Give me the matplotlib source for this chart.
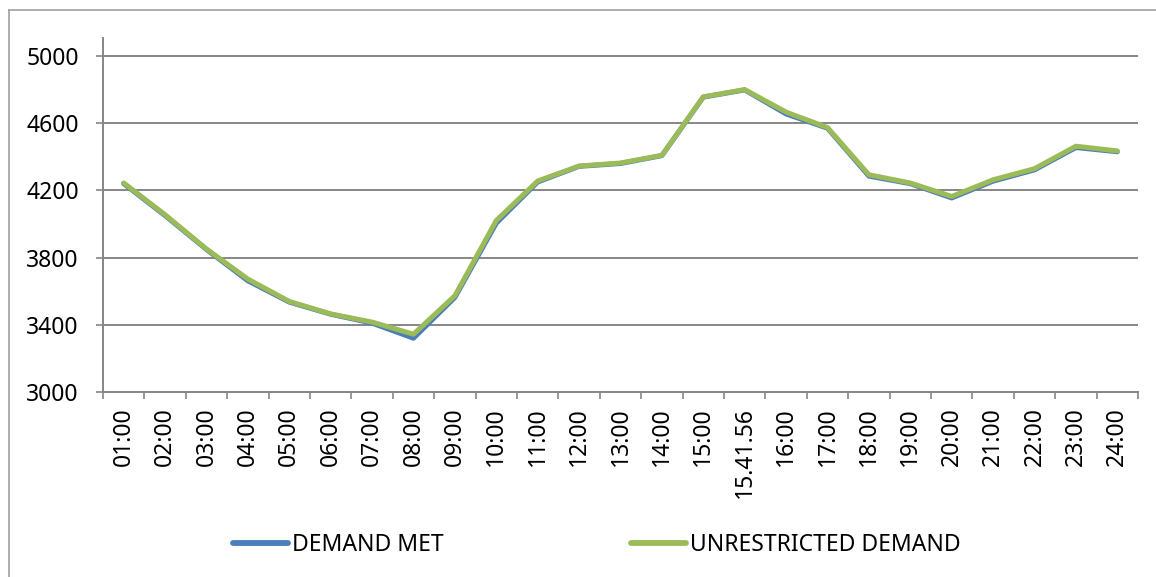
"""Demand met vs unrestricted demand, hourly line chart."""

import matplotlib
matplotlib.use("Agg")
import matplotlib.pyplot as plt
from matplotlib.lines import Line2D
from matplotlib.ticker import FixedLocator

hours = ["01:00", "02:00", "03:00", "04:00", "05:00", "06:00", "07:00",
         "08:00", "09:00", "10:00", "11:00", "12:00", "13:00", "14:00",
         "15:00", "15.41.56", "16:00", "17:00", "18:00", "19:00", "20:00",
         "21:00", "22:00", "23:00", "24:00"]

demand_met = [4240, 4050, 3848, 3662, 3535, 3463, 3410, 3320, 3563, 4005,
              4250, 4343, 4360, 4407, 4755, 4798, 4655, 4570, 4285, 4240,
              4155, 4255, 4322, 4455, 4430]

unrestricted = [4244, 4055, 3851, 3672, 3539, 3465, 3416, 3344, 3573, 4021,
                4256, 4345, 4363, 4409, 4757, 4800, 4666, 4574, 4293, 4244,
                4164, 4263, 4329, 4463, 4435]

y_ticks = [3000, 3400, 3800, 4200, 4600, 5000]

BLUE = "#4A7EBB"
GREEN = "#9BBB59"
AXIS_GREY = "#868686"
FONT = ["Noto Sans", "DejaVu Sans"]

W, H = 1156, 577
fig = plt.figure(figsize=(W / 100, H / 100), dpi=100)
fig.patch.set_facecolor("white")

# plot area in pixel coords of the reference
left, right, top, bottom = 103, 1138, 38, 392
ax = fig.add_axes([left / W, 1 - bottom / H, (right - left) / W, (bottom - top) / H])

x = list(range(len(hours)))
ax.plot(x, demand_met, color=BLUE, lw=3.6, solid_capstyle="round",
        solid_joinstyle="round", label="DEMAND MET", zorder=3)
ax.plot(x, unrestricted, color=GREEN, lw=3.6, solid_capstyle="round",
        solid_joinstyle="round", label="UNRESTRICTED DEMAND", zorder=4)

ax.set_xlim(-0.5, len(hours) - 0.5)
ax.set_ylim(3000, 5107)

# y axis
ax.set_yticks(y_ticks)
ax.set_yticklabels([str(v) for v in y_ticks], fontsize=16.5, family=FONT)
ax.yaxis.grid(True, color=AXIS_GREY, lw=1.4)
ax.set_axisbelow(True)
ax.tick_params(axis="y", length=5, width=1.2, color=AXIS_GREY, pad=12.5)

# x axis: labels at centres, tick marks at category boundaries
ax.set_xticks(x)
ax.set_xticklabels(hours, rotation=90, ha="center", va="top",
                   fontsize=16.5, family=FONT)
ax.tick_params(axis="x", which="major", length=0, pad=11)
ax.xaxis.set_minor_locator(FixedLocator([i - 0.5 for i in range(len(hours) + 1)]))
ax.tick_params(axis="x", which="minor", length=5, width=1.2, color=AXIS_GREY)

for side in ("top", "right"):
    ax.spines[side].set_visible(False)
for side in ("left", "bottom"):
    ax.spines[side].set_color(AXIS_GREY)
    ax.spines[side].set_linewidth(1.4)

# legend below the plot
leg = fig.legend(loc="center", bbox_to_anchor=(597 / W, 1 - 545 / H), ncol=2,
                 frameon=False, handlelength=2.4, handletextpad=0.2,
                 columnspacing=8.15, prop={"family": FONT, "size": 16.5})
for h in leg.get_lines():
    h.set_linewidth(4.2)
    h.set_solid_capstyle("round")

# outer chart frame (left and top edges visible)
fig.add_artist(Line2D([8.5 / W, 8.5 / W], [0, 1 - 9.5 / H], color="#A0A0A0", lw=1.2))
fig.add_artist(Line2D([8.5 / W, 1], [1 - 9.5 / H, 1 - 9.5 / H], color="#A0A0A0", lw=1.2))

fig.savefig("out.png", dpi=100)
